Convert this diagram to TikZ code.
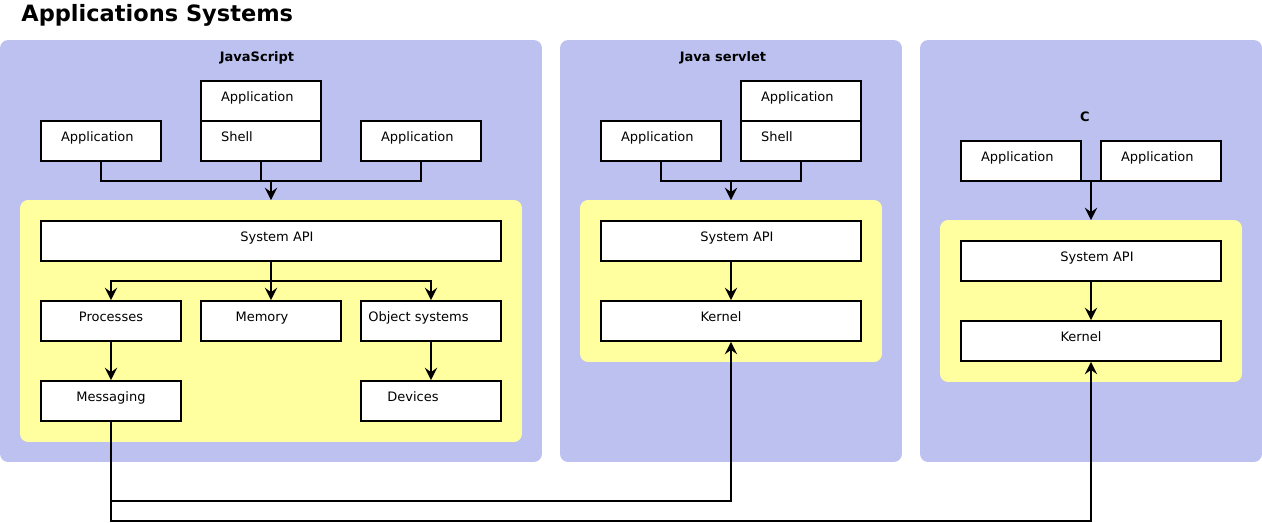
\documentclass[tikz,border=0pt]{standalone}
\usepackage{fontspec}
\setmainfont{DejaVu Sans}
\usetikzlibrary{arrows.meta,positioning}
\definecolor{panelblue}{HTML}{BCC1EF}
\definecolor{coreyellow}{HTML}{FFFFA0}

\begin{document}
\begin{tikzpicture}[
  x=0.02cm, y=-0.02cm,
  font=\fontsize{7.4}{9}\selectfont,
  panel/.style={fill=panelblue, rounded corners=0.16cm, inner sep=0pt, outer sep=0pt},
  core/.style={fill=coreyellow, rounded corners=0.16cm, inner sep=0pt, outer sep=0pt},
  unit/.style={draw, line width=1.1pt, fill=white, minimum height=0.8cm,
               inner sep=0pt, text height=2mm, text depth=2mm},
  app/.style={unit, text width=1.6cm, align=left, inner xsep=0.4cm},
  nudge/.style={execute at begin node={\hspace*{#1}}},
  ptitle/.style={anchor=base, font=\fontsize{7.4}{9}\selectfont\bfseries},
  link/.style={line width=1.1pt},
  >={Stealth[length=7pt, width=7pt, inset=2.5pt]}]
\useasboundingbox (0,0) rectangle (1262,522);

\node[anchor=base west, inner sep=0pt, font=\fontsize{12.8}{15}\selectfont\bfseries]
  (title) at (21,21) {Applications Systems};

% ---------------- JavaScript ----------------
\node[panel, minimum width=10.84cm, minimum height=8.44cm] (jspanel) at (271,251) {};
\node[ptitle] (jstitle) at (257,61) {JavaScript};
\node[core, minimum width=10.04cm, minimum height=4.84cm] (jscore) at (271,321) {};
\node[app] (jsapp1) at (101,141) {Application};
\node[app] (jsapp2) at (261,101) {Application};
\node[app] (jsshell) at (261,141) {Shell};
\node[app] (jsapp3) at (421,141) {Application};
\node[unit, minimum width=9.2cm, nudge=0.24cm] (jsapi) at (271,241) {System API};
\node[unit, minimum width=2.8cm] (jsproc) at (111,321) {Processes};
\node[unit, minimum width=2.8cm, nudge=-0.36cm] (jsmem) at (271,321) {Memory};
\node[unit, minimum width=2.8cm, nudge=-0.5cm] (jsobj) at (431,321) {Object systems};
\node[unit, minimum width=2.8cm] (jsmsg) at (111,401) {Messaging};
\node[unit, minimum width=2.8cm, nudge=-0.72cm] (jsdev) at (431,401) {Devices};
\coordinate (jsjoin) at (271,181);
\coordinate (jsfork) at (271,281);
\foreach \n in {jsapp1,jsshell,jsapp3}{
  \draw[link] (\n.south) |- (jsjoin);}
\draw[link, ->] (jsjoin) -- (jscore.north);
\draw[link] (jsapi.south) -- (jsfork);
\foreach \n in {jsproc,jsmem,jsobj}{
  \draw[link, ->] (jsfork) -| (\n.north);}
\draw[link, ->] (jsproc) -- (jsmsg);
\draw[link, ->] (jsobj) -- (jsdev);

% ---------------- Java servlet ----------------
\node[panel, minimum width=6.84cm, minimum height=8.44cm] (jvpanel) at (731,251) {};
\node[ptitle] (jvtitle) at (723,61) {Java servlet};
\node[core, minimum width=6.04cm, minimum height=3.24cm] (jvcore) at (731,281) {};
\node[app] (jvapp1) at (661,141) {Application};
\node[app] (jvapp2) at (801,101) {Application};
\node[app] (jvshell) at (801,141) {Shell};
\node[unit, minimum width=5.2cm, nudge=0.24cm] (jvapi) at (731,241) {System API};
\node[unit, minimum width=5.2cm, nudge=-0.4cm] (jvkern) at (731,321) {Kernel};
\coordinate (jvjoin) at (731,181);
\foreach \n in {jvapp1,jvshell}{
  \draw[link] (\n.south) |- (jvjoin);}
\draw[link, ->] (jvjoin) -- (jvcore.north);
\draw[link, ->] (jvapi) -- (jvkern);

% ---------------- C ----------------
\node[panel, minimum width=6.84cm, minimum height=8.44cm] (cpanel) at (1091,251) {};
\node[ptitle] (ctitle) at (1085,121) {C};
\node[core, minimum width=6.04cm, minimum height=3.24cm] (ccore) at (1091,301) {};
\node[app] (capp1) at (1021,161) {Application};
\node[app] (capp2) at (1161,161) {Application};
\node[unit, minimum width=5.2cm, nudge=0.24cm] (capi) at (1091,261) {System API};
\node[unit, minimum width=5.2cm, nudge=-0.4cm] (ckern) at (1091,341) {Kernel};
\coordinate (cjoin) at (1091,181);
\draw[link] ([yshift=0.55pt]capp1.south east) -- ([yshift=0.55pt]capp2.south west);
\draw[link, ->] (cjoin) -- (ccore.north);
\draw[link, ->] (capi) -- (ckern);

% messaging bus to both kernels
\coordinate (busa) at (111,501);
\coordinate (busb) at (111,521);
\draw[link, ->] (jsmsg.south) -- (busa) -| (jvkern.south);
\draw[link, ->] (busa) -- (busb) -| (ckern.south);
\end{tikzpicture}
\end{document}
